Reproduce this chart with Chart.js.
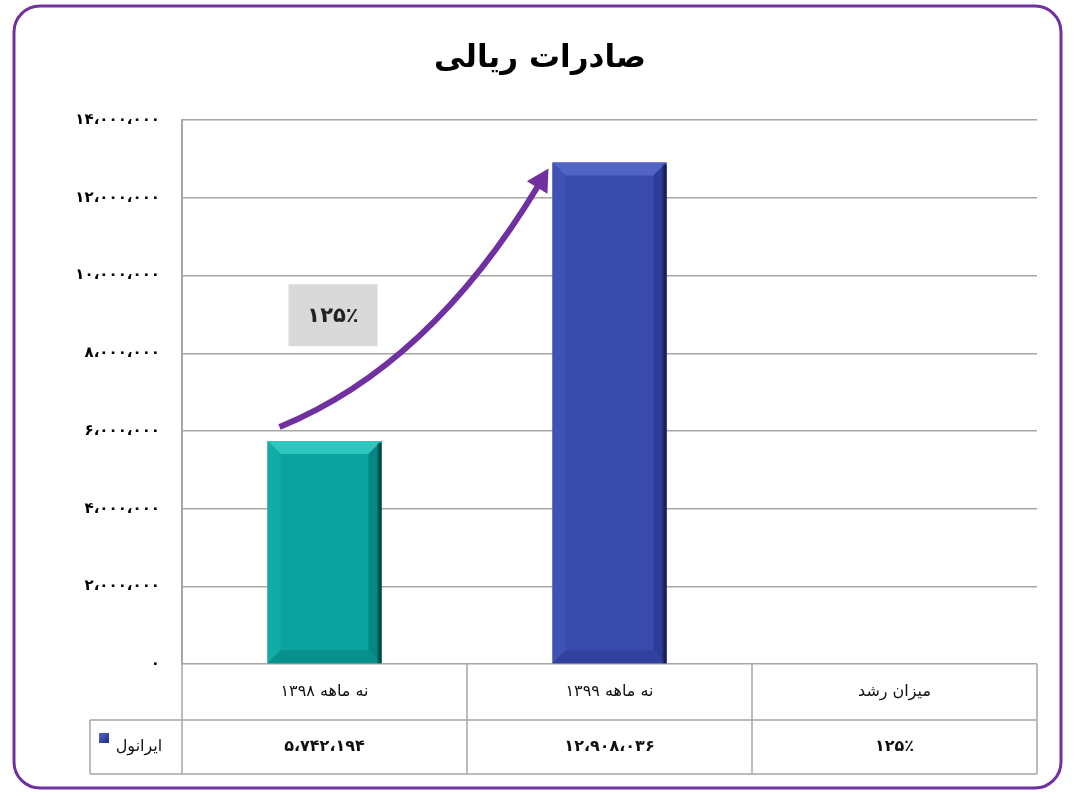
<!DOCTYPE html>
<html><head><meta charset="utf-8">
<script src="https://cdn.jsdelivr.net/npm/chart.js@4.4.0/dist/chart.umd.min.js"></script>
<style>html,body{margin:0;padding:0;background:#fff}#wrap{width:1080px;height:801px;position:relative}</style>
</head><body><div id="wrap"><canvas id="c" width="1080" height="801"></canvas></div>
<script>
// ---- data ----
const chartTitle = "صادرات ریالی";
const categories = ["نه ماهه ۱۳۹۸", "نه ماهه ۱۳۹۹", "میزان رشد"];
const seriesName = "ایرانول";
const seriesValues = [5742194, 12908036, null];
const tableValues = ["۵،۷۴۲،۱۹۴", "۱۲،۹۰۸،۰۳۶", "۱۲۵٪"];
const growthLabel = "۱۲۵٪";
const yTickValues = [0, 2000000, 4000000, 6000000, 8000000, 10000000, 12000000, 14000000];
const yTickLabels = ["۰", "۲،۰۰۰،۰۰۰", "۴،۰۰۰،۰۰۰", "۶،۰۰۰،۰۰۰", "۸،۰۰۰،۰۰۰", "۱۰،۰۰۰،۰۰۰", "۱۲،۰۰۰،۰۰۰", "۱۴،۰۰۰،۰۰۰"];

// ---- styles ----
const barFaces = ["#0BA39D", "#3A4BAE"];
const barBevels = [
  {top:"#30C6C0", left:"#12ACA6", right:"#078782", bottom:"#08918C", edge:"#03423F"},
  {top:"#5264C6", left:"#4152B7", right:"#2C3C98", bottom:"#31419E", edge:"#141D55"}
];
const FONT = "'DejaVu Sans', sans-serif";
const GRID = "#A6A6A6";
const PURPLE = "#7030A0";

function poly(ctx, pts, fill){
  ctx.beginPath(); ctx.moveTo(pts[0][0], pts[0][1]);
  for (let k=1;k<pts.length;k++) ctx.lineTo(pts[k][0], pts[k][1]);
  ctx.closePath(); ctx.fillStyle = fill; ctx.fill();
}

const bevelPlugin = {
  id: 'bevel',
  afterDatasetsDraw(chart){
    const ctx = chart.ctx;
    const meta = chart.getDatasetMeta(0);
    meta.data.forEach((bar, i) => {
      if (seriesValues[i] == null) return;
      const p = bar.getProps(['x','y','base','width'], true);
      const l = p.x - p.width/2, r = p.x + p.width/2, t = p.y, b = p.base, d = 13;
      const c = barBevels[i];
      ctx.save();
      poly(ctx, [[l,t],[r,t],[r-d,t+d],[l+d,t+d]], c.top);
      poly(ctx, [[l,t],[l+d,t+d],[l+d,b-d],[l,b]], c.left);
      poly(ctx, [[r,t],[r,b],[r-d,b-d],[r-d,t+d]], c.right);
      poly(ctx, [[l,b],[r,b],[r-d,b-d],[l+d,b-d]], c.bottom);
      const g = ctx.createLinearGradient(r-5, 0, r, 0);
      g.addColorStop(0, 'rgba(0,0,0,0)'); g.addColorStop(1, c.edge);
      ctx.fillStyle = g; ctx.fillRect(r-5, t+2, 5, b-t-2);
      ctx.restore();
    });
  }
};

const decorPlugin = {
  id: 'decor',
  afterDraw(chart){
    const ctx = chart.ctx;
    const ca = chart.chartArea;
    const xs = chart.scales.x;
    const n = categories.length;
    const cw = (ca.right - ca.left) / n;
    const y0 = ca.bottom, y1 = y0 + 56, y2 = y0 + 110;
    const legL = ca.left - 92;
    ctx.save();
    // table lines
    ctx.strokeStyle = GRID; ctx.lineWidth = 1.5;
    ctx.beginPath();
    ctx.moveTo(legL, y1); ctx.lineTo(ca.right, y1);
    ctx.moveTo(legL, y2); ctx.lineTo(ca.right, y2);
    ctx.moveTo(legL, y1); ctx.lineTo(legL, y2);
    for (let i=0;i<=n;i++){
      const x = ca.left + i*cw;
      ctx.moveTo(x, y0); ctx.lineTo(x, y2);
    }
    ctx.stroke();
    // table texts
    ctx.fillStyle = '#111';
    ctx.textAlign = 'center'; ctx.textBaseline = 'middle';
    ctx.direction = 'rtl';
    categories.forEach((lab, i) => {
      const x = xs.getPixelForValue(i);
      ctx.font = "16px " + FONT;
      ctx.fillText(lab, x, (y0+y1)/2);
      ctx.font = "bold 16px " + FONT;
      ctx.fillText(tableValues[i], x, (y1+y2)/2);
    });
    // legend cell
    const sq = 10, sx = legL + 9, sy = (y1+y2)/2 - 14;
    const lg = ctx.createLinearGradient(sx, sy, sx+sq, sy+sq);
    lg.addColorStop(0, '#5668CA'); lg.addColorStop(1, '#1F2C80');
    ctx.fillStyle = lg; ctx.fillRect(sx, sy, sq, sq);
    ctx.fillStyle = '#111'; ctx.font = "16px " + FONT;
    ctx.textAlign = 'center';
    ctx.fillText(seriesName, legL + 49, (y1+y2)/2);
    ctx.direction = 'ltr';
    // growth arrow
    const meta = chart.getDatasetMeta(0);
    const b1 = meta.data[0].getProps(['x','y','width'], true);
    const b2 = meta.data[1].getProps(['x','y','width'], true);
    const P0 = [b1.x - 45, b1.y - 14];
    const tip = [b2.x - b2.width/2 - 4, b2.y + 6];
    const C = [P0[0] + 150, P0[1] - 61];
    let dx = tip[0] - C[0], dy = tip[1] - C[1];
    const len = Math.hypot(dx, dy); dx /= len; dy /= len;
    const hl = 22, hw = 12;
    const baseP = [tip[0] - dx*hl, tip[1] - dy*hl];
    ctx.strokeStyle = PURPLE; ctx.lineWidth = 6; ctx.lineCap = 'butt';
    ctx.beginPath(); ctx.moveTo(P0[0], P0[1]);
    ctx.quadraticCurveTo(C[0], C[1], baseP[0] + dx*2, baseP[1] + dy*2);
    ctx.stroke();
    poly(ctx, [tip, [baseP[0] - dy*hw, baseP[1] + dx*hw], [baseP[0] + dy*hw, baseP[1] - dx*hw]], PURPLE);
    // growth label box
    const bx = b1.x - 36, by = ca.top + 164, bw = 89, bh = 62;
    ctx.fillStyle = '#D9D9D9'; ctx.fillRect(bx, by, bw, bh);
    ctx.fillStyle = '#222'; ctx.font = "bold 21px " + FONT; ctx.textAlign = 'center';
    ctx.fillText(growthLabel, bx + bw/2, by + bh/2 + 1);
    // outer border
    ctx.strokeStyle = PURPLE; ctx.lineWidth = 3;
    ctx.beginPath(); ctx.roundRect(14, 6, 1047, 782, 26); ctx.stroke();
    ctx.restore();
  }
};

new Chart(document.getElementById('c'), {
  type: 'bar',
  data: {
    labels: categories,
    datasets: [{
      label: seriesName,
      data: seriesValues,
      backgroundColor: barFaces,
      borderWidth: 0,
      barPercentage: 0.5,
      categoryPercentage: 0.8
    }]
  },
  options: {
    responsive: false,
    animation: false,
    devicePixelRatio: 1,
    layout: { padding: { left: 43, right: 43, top: 0, bottom: 0 } },
    plugins: {
      legend: { display: false },
      tooltip: { enabled: false },
      title: {
        display: true, text: chartTitle, color: '#000',
        font: { family: FONT, size: 31, weight: 'bold' },
        padding: { top: 40, bottom: 43 }
      }
    },
    scales: {
      x: {
        grid: { display: false },
        border: { display: false },
        ticks: { display: false },
        afterFit(s){ s.height = 137; }
      },
      y: {
        min: 0, max: 14000000,
        afterBuildTicks(s){ s.ticks = yTickValues.map(v => ({value: v})); },
        ticks: {
          color: '#000', padding: 22,
          font: { family: FONT, size: 15, weight: 'bold' },
          callback(v){ const k = yTickValues.indexOf(v); return k >= 0 ? yTickLabels[k] : ''; }
        },
        grid: { color: GRID, lineWidth: 1.5, drawTicks: false },
        border: { color: GRID, width: 2 },
        afterFit(s){ s.width = 139; }
      }
    }
  },
  plugins: [bevelPlugin, decorPlugin]
});
</script>
</body></html>
